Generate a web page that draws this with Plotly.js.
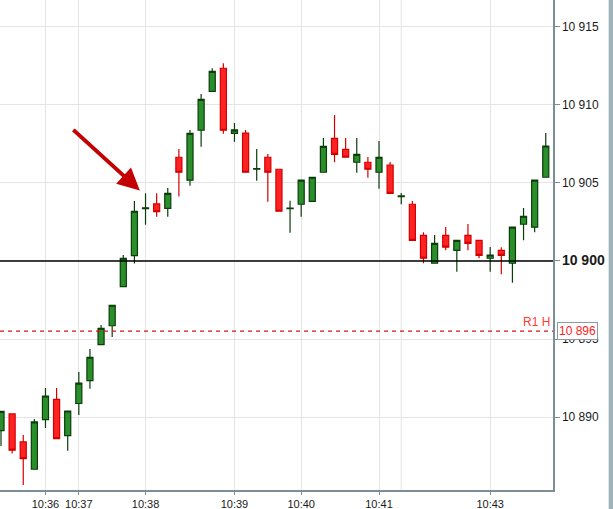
<!DOCTYPE html>
<html>
<head>
<meta charset="utf-8">
<script src="https://cdn.plot.ly/plotly-3.0.1.min.js"></script>
<style>
  html, body { margin: 0; padding: 0; background: #ffffff; }
  #chart { width: 613px; height: 509px; }
</style>
</head>
<body>
<div id="chart"></div>
<script>
// ---- data ----
var candleIndex = [];
for (var i = 0; i < 50; i++) candleIndex.push(i);

var opens = [10889.13,10890.20,10888.41,10886.66,10889.84,10891.14,10888.81,10890.87,10892.33,10894.64,
             10895.85,10898.35,10900.34,10903.35,10903.65,10903.37,10906.64,10905.17,10908.37,10910.86,
             10912.34,10908.17,10908.19,10905.87,10906.64,10905.87,10903.35,10903.63,10903.82,10905.68,
             10907.85,10907.15,10906.32,10906.32,10905.68,10906.13,10904.12,10903.63,10901.64,10899.85,
             10901.64,10900.68,10901.64,10901.32,10900.17,10900.68,10899.85,10902.35,10902.16,10905.36];
var highs = [10890.40,10890.20,10888.86,10889.88,10891.87,10891.87,10890.39,10892.89,10894.36,10895.90,
             10897.16,10900.38,10903.84,10904.33,10904.33,10904.67,10907.17,10908.39,10910.69,10912.34,
             10912.66,10908.83,10908.39,10907.17,10906.85,10905.87,10903.85,10905.17,10905.36,10907.87,
             10909.35,10907.87,10907.87,10906.66,10907.68,10906.34,10904.35,10903.84,10901.84,10901.66,
             10902.18,10901.32,10902.37,10901.32,10900.89,10900.87,10902.16,10903.39,10905.17,10908.19];
var lows = [10888.15,10887.66,10885.65,10886.66,10889.30,10888.62,10887.85,10890.14,10891.82,10894.64,
            10895.13,10898.35,10899.84,10902.32,10902.83,10902.83,10904.12,10904.82,10907.32,10910.86,
            10908.15,10907.64,10905.68,10905.14,10903.79,10903.18,10901.81,10902.83,10903.82,10905.68,
            10906.32,10906.64,10905.65,10905.33,10904.63,10904.33,10903.63,10901.32,10899.85,10899.85,
            10900.68,10899.31,10900.68,10900.17,10899.31,10899.15,10898.61,10901.32,10901.84,10905.36];
var closes = [10890.36,10887.88,10887.34,10889.69,10891.35,10888.62,10890.39,10892.17,10893.83,10895.69,
              10897.16,10900.17,10903.18,10903.40,10903.15,10904.33,10905.68,10908.17,10910.35,10912.14,
              10908.37,10908.39,10905.68,10905.91,10905.68,10903.18,10903.39,10905.17,10905.36,10907.34,
              10906.83,10906.64,10906.83,10905.87,10906.64,10904.33,10904.16,10901.32,10900.17,10901.13,
              10900.88,10901.32,10901.13,10900.36,10900.38,10900.36,10902.16,10902.86,10905.17,10907.36];

var timeTickIndex = [4, 7, 13, 21, 27, 34, 44];
var timeTickLabels = ['10:36', '10:37', '10:38', '10:39', '10:40', '10:41', '10:43'];
var extraGridIndex = [36];

var priceTicks = [10890, 10895, 10900, 10905, 10910, 10915];
var priceTickLabels = ['10 890', '10 895', '<span style="font-size:14px;font-weight:bold">10 900</span>', '10 905', '10 910', '10 915'];

var currentLevel = 10900;
var r1Level = 10895.5;
var r1Name = 'R1 H';
var r1Label = '10 896';
var arrowTarget = {x: 12.49, y: 10904.51};

// ---- chart ----
var trace = {
  type: 'candlestick',
  x: candleIndex,
  open: opens, high: highs, low: lows, close: closes,
  increasing: {line: {color: '#0b3d0b', width: 1.2}, fillcolor: '#2a8f2a'},
  decreasing: {line: {color: '#d40000', width: 1.2}, fillcolor: '#ff2222'},
  whiskerwidth: 0,
  hoverinfo: 'skip',
  showlegend: false
};

var shapes = [
  {type: 'line', xref: 'paper', yref: 'y', x0: 0, x1: 1, y0: currentLevel, y1: currentLevel,
   line: {color: '#000000', width: 1.5}, layer: 'above'},
  {type: 'line', xref: 'paper', yref: 'y', x0: 0, x1: 1, y0: r1Level, y1: r1Level,
   line: {color: '#dd1111', width: 1.2, dash: '4px,4px'}, layer: 'above'},
  {type: 'rect', xref: 'paper', yref: 'paper', x0: 609/553.3, x1: 1.12, y0: -0.1, y1: 1.1,
   fillcolor: '#9fb3bc', line: {width: 0}}
];
extraGridIndex.forEach(function (gx) {
  shapes.push({type: 'line', xref: 'x', yref: 'paper', x0: gx, x1: gx, y0: 0, y1: 1,
               line: {color: '#e4e4e4', width: 1}, layer: 'below'});
});

var annotations = [
  {xref: 'paper', yref: 'y', x: 1, y: r1Level, xanchor: 'right', yanchor: 'bottom',
   text: r1Name, showarrow: false, font: {family: 'Liberation Sans, Arial', size: 12, color: '#ff3b2f'},
   yshift: 0, xshift: -1},
  {xref: 'paper', yref: 'y', x: 557.5/553.3, y: r1Level, xanchor: 'left', yanchor: 'middle',
   text: r1Label, showarrow: false, bgcolor: '#ffffff', bordercolor: '#8a9aa2', borderwidth: 1,
   borderpad: 1, font: {family: 'Liberation Sans, Arial', size: 12, color: '#ff2020'}, yshift: 0},
  {xref: 'x', yref: 'y', x: arrowTarget.x, y: arrowTarget.y, ax: -68, ay: -62,
   axref: 'pixel', ayref: 'pixel', text: '', showarrow: true, arrowhead: 2, arrowsize: 1.1,
   arrowwidth: 4, arrowcolor: '#c40000', standoff: 0}
];

var layout = {
  width: 613, height: 509,
  margin: {l: 0, r: 60, t: 0, b: 19, pad: 0},
  paper_bgcolor: '#ffffff', plot_bgcolor: '#ffffff',
  showlegend: false,
  boxgap: 0.22,
  xaxis: {
    range: [-0.09, 49.65],
    rangeslider: {visible: false},
    tickmode: 'array', tickvals: timeTickIndex, ticktext: timeTickLabels,
    showgrid: true, gridcolor: '#e4e4e4', gridwidth: 1,
    zeroline: false,
    showline: true, linecolor: '#7d8e95', linewidth: 1.5,
    ticks: 'outside', ticklen: 3, tickcolor: '#7d8e95', tickwidth: 1,
    tickfont: {family: 'Liberation Sans, Arial', size: 11, color: '#1a1a1a'},
    fixedrange: true
  },
  yaxis: {
    side: 'right',
    range: [10885.33, 10916.71],
    tickmode: 'array', tickvals: priceTicks, ticktext: priceTickLabels,
    showgrid: true, gridcolor: '#e4e4e4', gridwidth: 1,
    zeroline: false,
    showline: true, linecolor: '#7d8e95', linewidth: 1.5,
    ticks: 'outside', ticklen: 5, tickcolor: '#7d8e95', tickwidth: 1,
    tickfont: {family: 'Liberation Sans, Arial', size: 12, color: '#1a1a1a'},
    fixedrange: true
  },
  shapes: shapes,
  annotations: annotations
};

Plotly.newPlot('chart', [trace], layout, {displayModeBar: false, staticPlot: true});
</script>
</body>
</html>
